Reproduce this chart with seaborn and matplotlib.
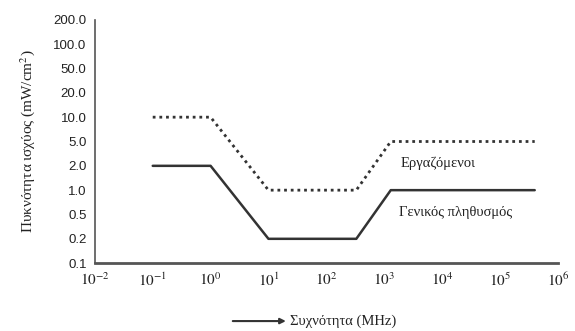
import numpy as np
import pandas as pd
import seaborn as sns
import matplotlib.pyplot as plt

# y axis levels (equally spaced on the chart)
levels = [0.1, 0.2, 0.5, 1.0, 2.0, 5.0, 10.0, 20.0, 50.0, 100.0, 200.0]
xticks = [1e-2, 1e-1, 1e0, 1e1, 1e2, 1e3, 1e4, 1e5, 1e6]
xtick_labels = ['$10^{-2}$', '$10^{-1}$', '$10^{0}$', '$10^{1}$', '$10^{2}$',
                '$10^{3}$', '$10^{4}$', '$10^{5}$', '$10^{6}$']

# workers (dotted)
freq_workers = [0.1, 1, 10, 330, 1300, 400000]
dens_workers = [10.0, 10.0, 1.0, 1.0, 5.0, 5.0]
# general public (solid)
freq_public = [0.1, 1, 10, 330, 1300, 400000]
dens_public = [2.0, 2.0, 0.2, 0.2, 1.0, 1.0]


def to_pos(vals):
    return [levels.index(v) for v in vals]


df_w = pd.DataFrame({'f': freq_workers, 'p': to_pos(dens_workers)})
df_p = pd.DataFrame({'f': freq_public, 'p': to_pos(dens_public)})

sns.set_style('white')
plt.rcParams['font.family'] = ['Liberation Serif', 'DejaVu Serif']
plt.rcParams['mathtext.fontset'] = 'stix'

fig = plt.figure(figsize=(5.75, 3.31), dpi=100)
ax = fig.add_axes([0.165, 0.205, 0.805, 0.735])

sns.lineplot(data=df_w, x='f', y='p', sort=False, estimator=None, ax=ax,
             color='#333333', linewidth=2.0, linestyle=(0, (1, 1.4)))
sns.lineplot(data=df_p, x='f', y='p', sort=False, estimator=None, ax=ax,
             color='#333333', linewidth=1.8)

ax.set_xscale('log')
ax.set_xlim(1e-2, 1e6)
ax.set_ylim(0, len(levels) - 1)
ax.set_xticks(xticks)
ax.set_xticklabels(xtick_labels, fontsize=11)
ax.minorticks_off()
ax.set_yticks(range(len(levels)))
ax.set_yticklabels([f'{v:.1f}' for v in levels], fontsize=9.5,
                   family=['Liberation Sans', 'DejaVu Sans'])

for s in ['top', 'right']:
    ax.spines[s].set_visible(False)
ax.spines['left'].set_color('#555555')
ax.spines['bottom'].set_color('#555555')
ax.spines['bottom'].set_linewidth(2.0)
ax.spines['left'].set_linewidth(1.2)
ax.tick_params(axis='both', direction='inout', length=6, width=1, colors='#555555',
               labelcolor='#222222')
ax.tick_params(axis='x', pad=3)
ax.tick_params(axis='y', pad=3)

ax.set_xlabel('')
ax.set_ylabel('Πυκνότητα ισχύος (mW/cm$^2$)', fontsize=11, color='#222222', labelpad=12)

ax.text(1900, 4.1, 'Εργαζόμενοι', fontsize=10.5, va='center', ha='left', color='#222222')
ax.text(1800, 2.1, 'Γενικός πληθυσμός', fontsize=10.5, va='center', ha='left', color='#222222')

fig.text(0.505, 0.03, 'Συχνότητα (MHz)', fontsize=10.5, va='center', ha='left', color='#222222')
ax.annotate('', xy=(0.502, 0.03), xytext=(0.40, 0.03), xycoords='figure fraction',
            textcoords='figure fraction',
            arrowprops=dict(arrowstyle='-|>', color='#333333', lw=1.5, mutation_scale=8))

fig.savefig('out.png', dpi=100)
